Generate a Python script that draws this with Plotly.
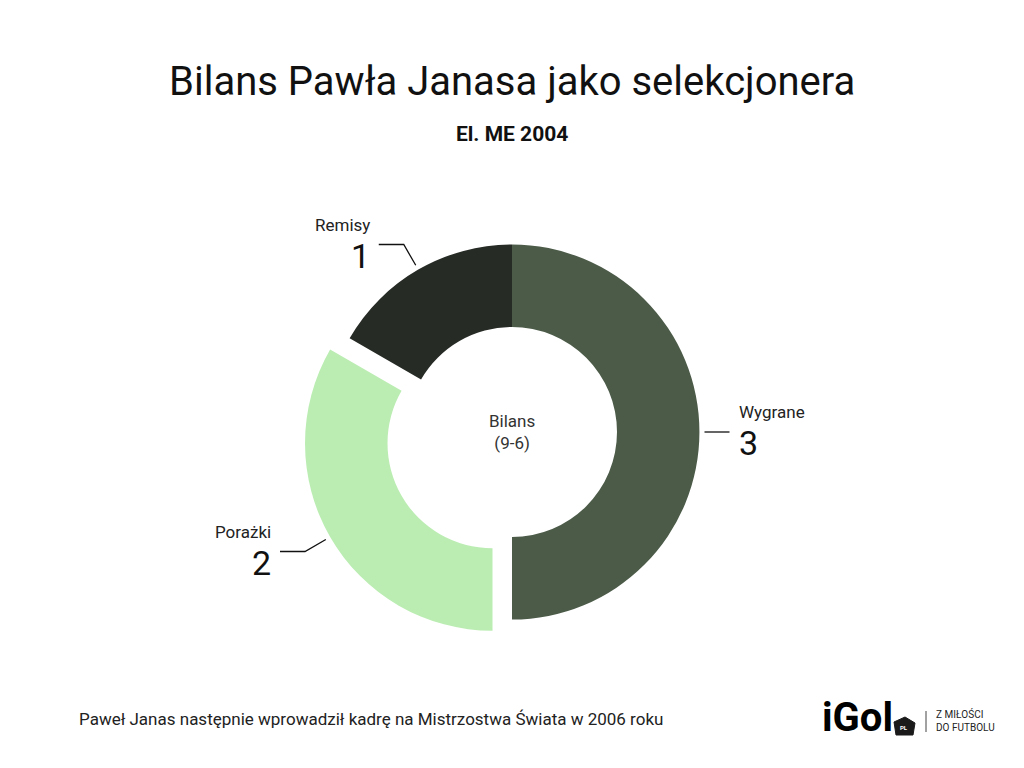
import math
import plotly.graph_objects as go

# Data
labels = ["Wygrane", "Porażki", "Remisy"]
values = [3, 2, 1]
pulls = [0, 0.12, 0]
colors = ["#4b5b48", "#bbedb3", "#262b25"]

title = "Bilans Pawła Janasa jako selekcjonera"
subtitle = "El. ME 2004"
center_text = "Bilans<br>(9-6)"
footer = "Paweł Janas następnie wprowadził kadrę na Mistrzostwa Świata w 2006 roku"

# Layout geometry (screen pixels); page body has an 8px margin
W, H = 1016, 760
OFF = 8
cx, cy, R = 512, 432, 187.5
hole = 0.56
half = R * (1 + max(pulls))
FONT = "Roboto, Arial, sans-serif"


def px(x):
    return (x - OFF) / W


def py(y):
    return 1 - (y - OFF) / H


fig = go.Figure(go.Pie(
    labels=labels,
    values=values,
    pull=pulls,
    hole=hole,
    sort=False,
    direction="clockwise",
    rotation=0,
    marker=dict(colors=colors, line=dict(width=0)),
    textinfo="none",
    hoverinfo="label+value",
    domain=dict(x=[px(cx - half), px(cx + half)], y=[py(cy + half), py(cy - half)]),
))

shapes = []
annotations = []

# Leader lines + outside labels, computed from slice angles
total = sum(values)
start = 0
for lab, val, pull in zip(labels, values, pulls):
    mid = (start + val / 2) / total * 360
    start += val
    a = math.radians(mid)
    dx, dy = math.sin(a), -math.cos(a)
    r0 = R * (1 + pull) + 5
    ox, oy = cx + dx * r0, cy + dy * r0
    elbow = 24 if abs(dy) > 0.3 else 0
    ex, ey = ox + dx * elbow, oy + dy * elbow
    side = 1 if dx >= 0 else -1
    hx = ex + side * 25
    shapes.append(dict(
        type="path", xref="paper", yref="paper",
        path=f"M {px(ox)},{py(oy)} L {px(ex)},{py(ey)} L {px(hx)},{py(ey)}",
        line=dict(color="#111111", width=1.3),
    ))
    tx = hx + side * 7
    anchor = "left" if side > 0 else "right"
    annotations.append(dict(
        x=px(tx), y=py(ey - 8), xref="paper", yref="paper",
        text=lab, showarrow=False, xanchor=anchor, yanchor="bottom",
        font=dict(family=FONT, size=17, color="#222222"),
    ))
    annotations.append(dict(
        x=px(tx), y=py(ey - 11), xref="paper", yref="paper",
        text=str(val), showarrow=False, xanchor=anchor, yanchor="top",
        font=dict(family=FONT, size=34, color="#111111"),
    ))

# Centre text
annotations.append(dict(
    x=px(cx), y=py(cy), xref="paper", yref="paper",
    text=center_text, showarrow=False, xanchor="center", yanchor="middle",
    font=dict(family=FONT, size=17, color="#333333"),
))

# Title / subtitle / footer
annotations.append(dict(
    x=px(cx), y=py(82), xref="paper", yref="paper", text=title, showarrow=False,
    xanchor="center", yanchor="middle", font=dict(family=FONT, size=40, color="#111111"),
))
annotations.append(dict(
    x=px(cx), y=py(134), xref="paper", yref="paper", text="<b>" + subtitle + "</b>", showarrow=False,
    xanchor="center", yanchor="middle", font=dict(family=FONT, size=21, color="#111111"),
))
annotations.append(dict(
    x=px(77), y=py(719), xref="paper", yref="paper", text=footer, showarrow=False,
    xanchor="left", yanchor="middle", font=dict(family=FONT, size=17, color="#222222"),
))

# Logo
annotations.append(dict(
    x=px(820), y=py(717), xref="paper", yref="paper", text="<b>iGol</b>", showarrow=False,
    xanchor="left", yanchor="middle", font=dict(family=FONT, size=40, color="#000000"),
))
pent = [(905, 717), (915, 723), (913, 735), (896, 735), (894, 722)]
shapes.append(dict(
    type="path", xref="paper", yref="paper",
    path="M " + " L ".join(f"{px(x)},{py(y)}" for x, y in pent) + " Z",
    fillcolor="#1a1a1a", line=dict(color="#1a1a1a", width=1),
))
annotations.append(dict(
    x=px(904), y=py(727), xref="paper", yref="paper", text="<b>PL</b>", showarrow=False,
    xanchor="center", yanchor="middle", font=dict(family=FONT, size=6, color="#ffffff"),
))
shapes.append(dict(
    type="line", xref="paper", yref="paper",
    x0=px(926), x1=px(926), y0=py(711), y1=py(732),
    line=dict(color="#444444", width=1),
))
annotations.append(dict(
    x=px(934), y=py(720), xref="paper", yref="paper", text="Z MIŁOŚCI<br>DO FUTBOLU",
    showarrow=False, xanchor="left", yanchor="middle", align="left",
    font=dict(family=FONT, size=10, color="#222222"),
))

fig.update_layout(
    width=W, height=H,
    margin=dict(l=0, r=0, t=0, b=0),
    paper_bgcolor="#ffffff",
    plot_bgcolor="#ffffff",
    showlegend=False,
    shapes=shapes,
    annotations=annotations,
)

fig.write_html("out.html")
